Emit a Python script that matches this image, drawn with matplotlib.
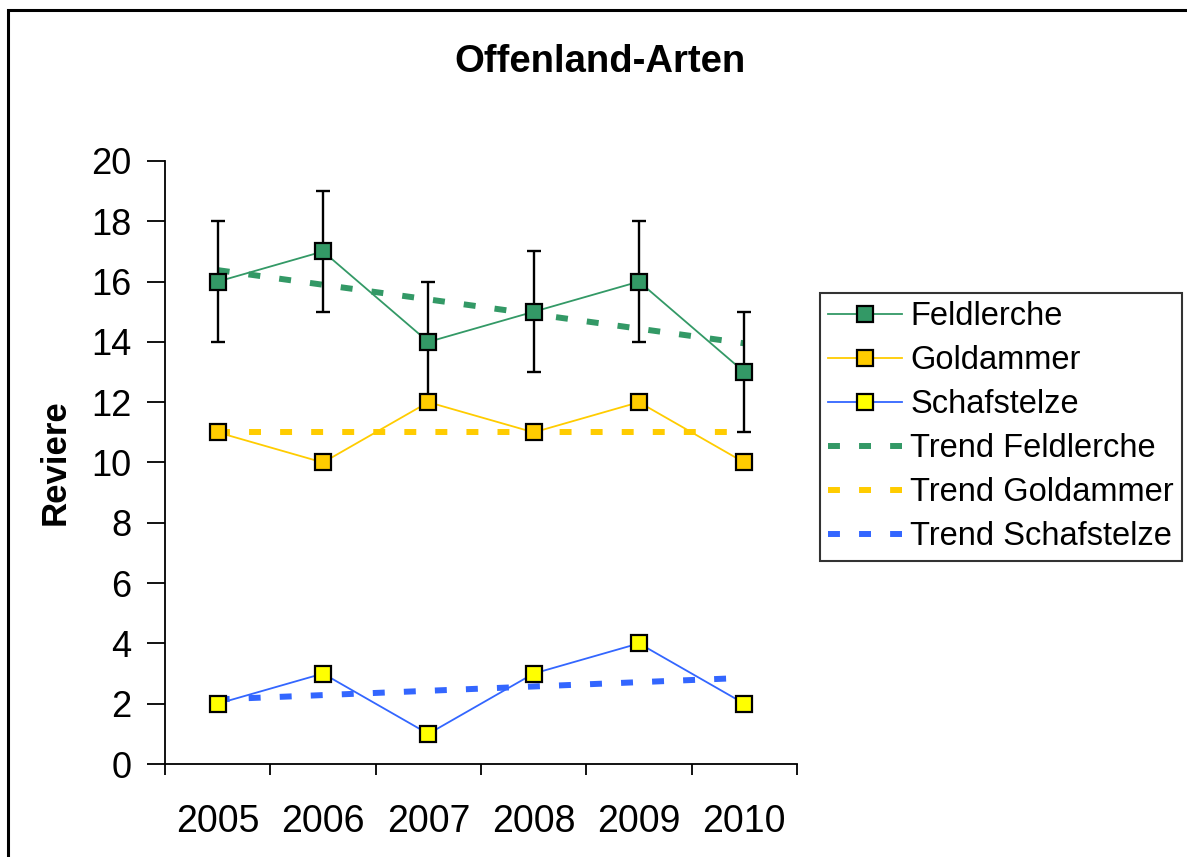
import numpy as np
import matplotlib
matplotlib.use("Agg")
import matplotlib.pyplot as plt
from matplotlib.patches import Rectangle

years = ["2005", "2006", "2007", "2008", "2009", "2010"]
feldlerche = [16, 17, 14, 15, 16, 13]
feldlerche_err = [2, 2, 2, 2, 2, 2]
goldammer = [11, 10, 12, 11, 12, 10]
schafstelze = [2, 3, 1, 3, 4, 2]

plt.rcParams['font.family'] = ['Liberation Sans', 'DejaVu Sans']

fig = plt.figure(figsize=(11.87, 8.57), dpi=100)
ax = fig.add_axes([165/1187, 1-764/857, (797-165)/1187, (764-161)/857])

x = np.arange(len(years))

green = '#339966'
gold = '#FFCC00'
blue = '#3366FF'
yellow = '#FFFF00'

def trend(y):
    k, d = np.polyfit(x, y, 1)
    return k * x + d

dash = (0, (2, 3.2))
ax.plot(x, trend(feldlerche), color=green, lw=4.3, linestyle=dash, label='Trend Feldlerche', zorder=2)
ax.plot(x, trend(goldammer), color=gold, lw=4.3, linestyle=dash, label='Trend Goldammer', zorder=2)
ax.plot(x, trend(schafstelze), color=blue, lw=4.3, linestyle=dash, label='Trend Schafstelze', zorder=2)

ax.errorbar(x, feldlerche, yerr=feldlerche_err, fmt='none', ecolor='black',
            elinewidth=1.7, capsize=5, capthick=1.7, zorder=3)

ax.plot(x, feldlerche, color=green, lw=1.3, marker='s', ms=11,
        mfc=green, mec='black', mew=1.6, label='Feldlerche', zorder=4)
ax.plot(x, goldammer, color=gold, lw=1.3, marker='s', ms=11,
        mfc=gold, mec='black', mew=1.6, label='Goldammer', zorder=4)
ax.plot(x, schafstelze, color=blue, lw=1.3, marker='s', ms=11,
        mfc=yellow, mec='black', mew=1.6, label='Schafstelze', zorder=4)

ax.set_xlim(-0.5, len(years) - 0.5)
ax.set_ylim(0, 20)
ax.set_yticks(np.arange(0, 21, 2))
ax.set_xticks(np.arange(-0.5, len(years), 1.0))
ax.set_xticklabels([])
ax.set_xticks(x, minor=True)
ax.set_xticklabels(years, minor=True)
ax.tick_params(axis='x', which='major', direction='out', length=8, width=1.3)
ax.tick_params(axis='x', which='minor', length=0, pad=29, labelsize=27)
ax.tick_params(axis='y', direction='out', length=13, width=1.3, pad=11, labelsize=26)

for s in ['top', 'right']:
    ax.spines[s].set_visible(False)
for s in ['left', 'bottom']:
    ax.spines[s].set_linewidth(1.3)

ax.set_ylabel('Reviere', fontsize=25, fontweight='bold', labelpad=14)
fig.text(600/1187, 1-62/857, 'Offenland-Arten', fontsize=27.5, fontweight='bold',
         ha='center', va='center')

handles, labels = ax.get_legend_handles_labels()
order = [3, 4, 5, 0, 1, 2]
leg = fig.legend([handles[i] for i in order], [labels[i] for i in order],
                 loc='upper left', bbox_to_anchor=(820/1187, 1-293/857),
                 fontsize=23.5, frameon=True, fancybox=False, shadow=False,
                 handlelength=2.27, handletextpad=0.25, labelspacing=0.4,
                 borderpad=0.25, borderaxespad=0)
leg.get_frame().set_edgecolor('black')
leg.get_frame().set_linewidth(1.5)

fig.patches.append(Rectangle((8/1187, -0.1), 1.2, 1.1 - 10/857, transform=fig.transFigure,
                             fill=False, edgecolor='black', lw=2.2, clip_on=False))

fig.savefig('out.png', dpi=100)
